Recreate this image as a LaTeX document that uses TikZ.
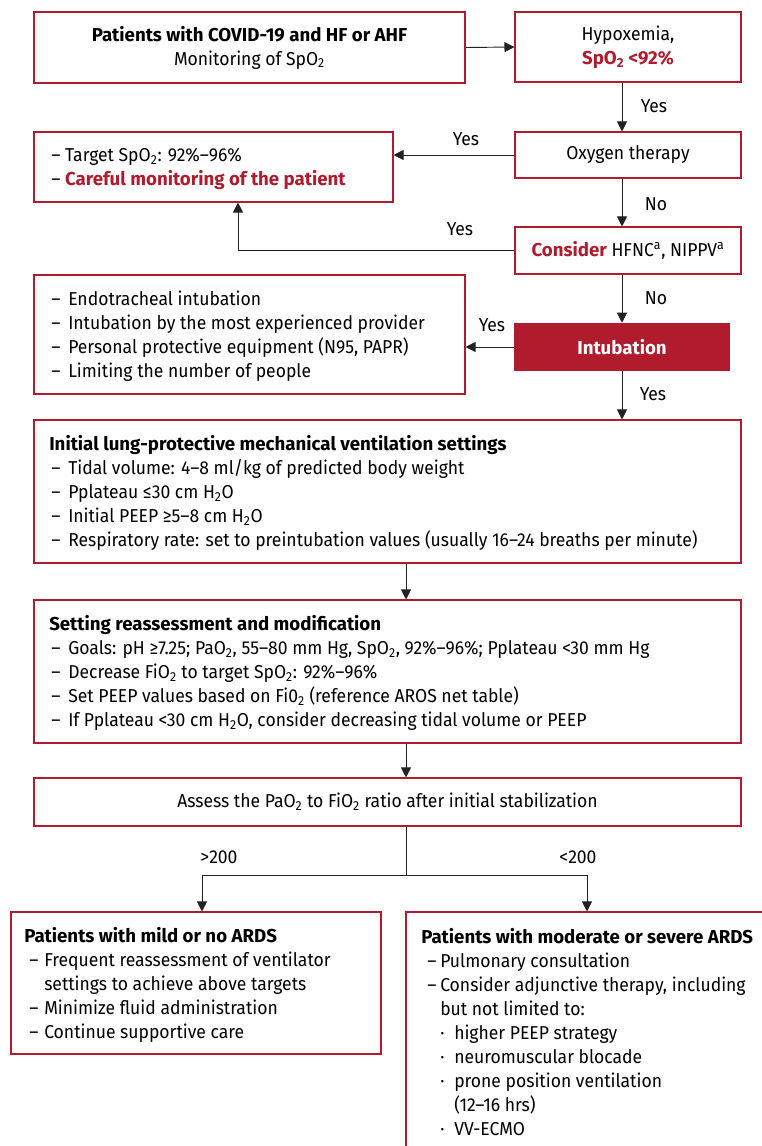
\documentclass[tikz,border=0pt]{standalone}
\usepackage{fontspec}
\setmainfont{Fira Sans}[FakeStretch=0.94, BoldFeatures={FakeStretch=1.0}]
\usetikzlibrary{arrows.meta}
\definecolor{dred}{HTML}{B01C2E}
\definecolor{lgray}{HTML}{222222}
\newcommand\sbs[1]{\textsubscript{#1}}
\newcommand\sps[1]{\textsuperscript{#1}}
\begin{document}
\begin{tikzpicture}[x=0.75pt,y=-0.75pt,
  every node/.style={font=\fontsize{14}{18}\selectfont, inner sep=0pt},
  box/.style={draw=dred, line width=0.8pt, inner sep=0pt},
  tbox/.style={box, line width=1.6pt},
  fbox/.style={fill=dred, inner sep=0pt, text=white, font=\fontsize{14}{18}\selectfont\bfseries},
  arr/.style={-{Triangle[length=7.5pt,width=7.5pt]}, line width=0.7pt, draw=lgray},
  ln/.style={line width=0.7pt, draw=lgray},
  lbl/.style={inner sep=0pt},
  txt/.style={align=left, anchor=west, inner sep=0pt}]
\useasboundingbox (0,0) rectangle (762,1146);

% boxes
\node[tbox, minimum width=323.25pt, minimum height=53.25pt, align=center] (p1) at (249.5,47.5)
  {\textbf{Patients with COVID-19 and HF or AHF}\\Monitoring of SpO\sbs{2}};
\node[box, minimum width=169.5pt, minimum height=52.5pt, align=center] (hyp) at (628,47)
  {Hypoxemia,\\\textcolor{dred}{\bfseries SpO\sbs{2} <92\%}};
\node[box, minimum width=169.5pt, minimum height=34.5pt] (oxy) at (628,155) {Oxygen therapy};
\node[box, minimum width=269.25pt, minimum height=52.5pt] (target) at (213.5,167) {};
\node[txt] (targett) at (51,169)
  {– Target SpO\sbs{2}: 92\%–96\%\\– \textcolor{dred}{\bfseries Careful monitoring of the patient}};
\node[box, minimum width=169.5pt, minimum height=35.25pt] (cons) at (628,250.5)
  {\textcolor{dred}{\bfseries Consider} HFNC\sps{a}, NIPPV\sps{a}};
\node[box, minimum width=323.25pt, minimum height=89.25pt] (list) at (249.5,334.5) {};
\node[txt] (listt) at (49,336)
  {\hspace*{1.5pt}\makebox[12.75pt][l]{–}Endotracheal intubation\\
   \hspace*{1.5pt}\makebox[12.75pt][l]{–}Intubation by the most experienced provider\\
   \hspace*{1.5pt}\makebox[12.75pt][l]{–}Personal protective equipment (N95, PAPR)\\
   \hspace*{1.5pt}\makebox[12.75pt][l]{–}Limiting the number of people};
\node[fbox, minimum width=162pt, minimum height=36pt] (intub) at (622,347) {Intubation};
\node[box, minimum width=530.25pt, minimum height=107.25pt] (init) at (387.5,491.5) {};
\node[txt] (initt) at (49,493)
  {\textbf{Initial lung-protective mechanical ventilation settings}\\
   \hspace*{1.5pt}\makebox[12.75pt][l]{–}Tidal volume: 4–8 ml/kg of predicted body weight\\
   \hspace*{1.5pt}\makebox[12.75pt][l]{–}Pplateau ≤30 cm H\sbs{2}O\\
   \hspace*{1.5pt}\makebox[12.75pt][l]{–}Initial PEEP ≥5–8 cm H\sbs{2}O\\
   \hspace*{1.5pt}\makebox[12.75pt][l]{–}Respiratory rate: set to preintubation values (usually 16–24 breaths per minute)};
\node[box, minimum width=530.25pt, minimum height=107.25pt] (setb) at (387.5,671.5) {};
\node[txt] (setbt) at (49,673)
  {\textbf{Setting reassessment and modification}\\
   \hspace*{1.5pt}\makebox[12.75pt][l]{–}Goals: pH ≥7.25; PaO\sbs{2}, 55–80 mm Hg, SpO\sbs{2}, 92\%–96\%; Pplateau <30 mm Hg\\
   \hspace*{1.5pt}\makebox[12.75pt][l]{–}Decrease FiO\sbs{2} to target SpO\sbs{2}: 92\%–96\%\\
   \hspace*{1.5pt}\makebox[12.75pt][l]{–}Set PEEP values based on Fi0\sbs{2} (reference AROS net table)\\
   \hspace*{1.5pt}\makebox[12.75pt][l]{–}If Pplateau <30 cm H\sbs{2}O, consider decreasing tidal volume or PEEP};
\node[box, minimum width=530.25pt, minimum height=36pt] (assess) at (387.5,802)
  {Assess the PaO\sbs{2} to FiO\sbs{2} ratio after initial stabilization};
\node[box, minimum width=277.5pt, minimum height=106.5pt] (mild) at (196,983) {};
\node[txt] (mildt) at (24,985)
  {\textbf{Patients with mild or no ARDS}\\
   \hspace*{3.75pt}\makebox[11.25pt][l]{–}Frequent reassessment of ventilator\\
   \hspace*{15pt}settings to achieve above targets\\
   \hspace*{3.75pt}\makebox[11.25pt][l]{–}Minimize fluid administration\\
   \hspace*{3.75pt}\makebox[11.25pt][l]{–}Continue supportive care};
\node[box, minimum width=274.5pt, minimum height=186pt] (sev) at (589,1036) {};
\node[txt] (sevt) at (421,1032.5)
  {\textbf{Patients with moderate or severe ARDS}\\
   \hspace*{4.5pt}\makebox[9.75pt][l]{–}Pulmonary consultation\\
   \hspace*{4.5pt}\makebox[9.75pt][l]{–}Consider adjunctive therapy, including\\
   \hspace*{14.25pt}but not limited to:\\
   \hspace*{14.25pt}\makebox[10.5pt][l]{·}higher PEEP strategy\\
   \hspace*{14.25pt}\makebox[10.5pt][l]{·}neuromuscular blocade\\
   \hspace*{14.25pt}\makebox[10.5pt][l]{·}prone position ventilation\\
   \hspace*{24.75pt}(12–16 hrs)\\
   \hspace*{14.25pt}\makebox[10.5pt][l]{·}VV-ECMO};

% helper coordinates
\coordinate (ax) at (406,0);
\coordinate (tx) at (238,0);
\coordinate (jn) at (406,875);
\coordinate (jl) at (202,875);
\coordinate (jr) at (587,875);

% connectors
\draw[arr] (p1.east) -- (hyp.west);
\draw[arr] (hyp.south -| intub.center) -- (oxy.north -| intub.center);
\draw[arr] (oxy.west) -- (oxy.west -| target.east);
\draw[arr] (oxy.south -| intub.center) -- (cons.north -| intub.center);
\draw[arr] (cons.west) -| (target.south -| tx);
\draw[arr] (cons.south -| intub.center) -- (intub.north);
\draw[arr] (intub.west) -- (intub.west -| list.east);
\draw[arr] (intub.south) -- (intub.south |- init.north);
\draw[arr] (init.south -| ax) -- (setb.north -| ax);
\draw[arr] (setb.south -| ax) -- (assess.north -| ax);
\draw[ln] (assess.south -| jn) -- (jn);
\draw[arr] (jn) -| (mild.north -| jl);
\draw[arr] (jn) -| (sev.north -| jr);

% labels
\node[lbl] (y1) at (654,106) {Yes};
\node[lbl] (y2) at (466,139) {Yes};
\node[lbl] (n1) at (656,204) {No};
\node[lbl] (y3) at (460,229) {Yes};
\node[lbl] (n2) at (656,298) {No};
\node[lbl] (y4) at (492,325) {Yes};
\node[lbl] (y5) at (653,394) {Yes};
\node[lbl] (g200) at (219,857) {>200};
\node[lbl] (l200) at (578,857) {<200};
\end{tikzpicture}
\end{document}
